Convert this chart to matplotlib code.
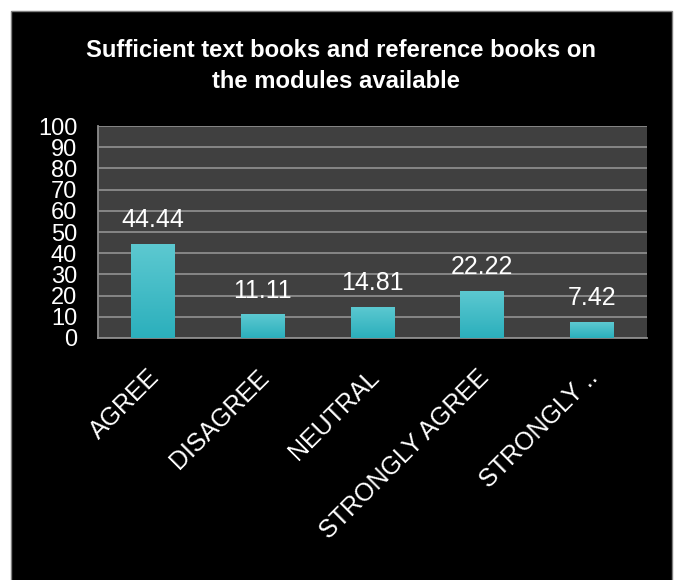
import matplotlib
matplotlib.use("Agg")
import matplotlib.pyplot as plt
import matplotlib.transforms as mtransforms
import numpy as np
from matplotlib.patches import Rectangle
from matplotlib.colors import LinearSegmentedColormap

categories = ["AGREE", "DISAGREE", "NEUTRAL", "STRONGLY AGREE", "STRONGLY .."]
values = [44.44, 11.11, 14.81, 22.22, 7.42]
value_labels = ["44.44", "11.11", "14.81", "22.22", "7.42"]
yticks = [0, 10, 20, 30, 40, 50, 60, 70, 80, 90, 100]
title_lines = ["Sufficient text books and reference books on", "the modules available"]

plt.rcParams['font.family'] = ['Liberation Sans', 'DejaVu Sans']

W, H = 674, 580
fig = plt.figure(figsize=(W / 100, H / 100), dpi=100, facecolor='white')

# black chart frame
fig.patches.append(Rectangle((11 / W, -0.01), (672 - 11) / W, 1 - 11 / H + 0.01,
                             transform=fig.transFigure, facecolor='black',
                             edgecolor='#7f7f7f', linewidth=1.0, zorder=-5))

ax = fig.add_axes([98 / W, 1 - 338 / H, (647 - 98) / W, (338 - 126) / H])
ax.set_zorder(2)
ax.set_facecolor('#404040')

x = np.arange(len(categories))
bars = ax.bar(x, values, width=0.40, color='#44BEC8', zorder=3)

# vertical gradient fill on each bar
cmap = LinearSegmentedColormap.from_list('tg', ['#2BAFBC', '#5DC9D1'])
grad = np.linspace(0, 1, 256).reshape(-1, 1)
for b in bars:
    x0, y0 = b.get_x(), b.get_y()
    w, h = b.get_width(), b.get_height()
    im = ax.imshow(grad, extent=[x0, x0 + w, y0, y0 + h], origin='lower',
                   aspect='auto', cmap=cmap, zorder=3.5)
    im.set_clip_path(b)

for b, lab in zip(bars, value_labels):
    ax.annotate(lab, (b.get_x() + b.get_width() / 2, b.get_height()),
                xytext=(0, 12.2), textcoords='offset points',
                ha='center', va='baseline', color='white', fontsize=18, zorder=5)

ax.set_xlim(-0.5, len(categories) - 0.5)
ax.set_ylim(0, 100)
ax.set_yticks(yticks)
ax.set_yticklabels([str(t) for t in yticks])
ax.yaxis.grid(True, color='#8c8c8c', linewidth=1.3, zorder=1)
ax.set_axisbelow(True)

ax.set_xticks(x)
ax.set_xticklabels(categories, rotation=45, ha='right', rotation_mode='default')
ax.tick_params(axis='x', length=0, pad=19.5, labelsize=18, labelcolor='white')
ax.tick_params(axis='y', length=0, pad=15, labelsize=17, labelcolor='white')
shift = mtransforms.ScaledTranslation(11 / 100, 0, fig.dpi_scale_trans)
for lbl in ax.get_xticklabels():
    lbl.set_transform(lbl.get_transform() + shift)

for s in ['top', 'right']:
    ax.spines[s].set_visible(False)
for s in ['left', 'bottom']:
    ax.spines[s].set_color('#8c8c8c')
    ax.spines[s].set_linewidth(1.3)

fig.text(341 / W, 1 - 57 / H, title_lines[0], ha='center', va='baseline',
         color='white', fontsize=17.2, fontweight='bold')
fig.text(336 / W, 1 - 88 / H, title_lines[1], ha='center', va='baseline',
         color='white', fontsize=17.2, fontweight='bold')

fig.savefig('out.png', dpi=100, facecolor='white')
